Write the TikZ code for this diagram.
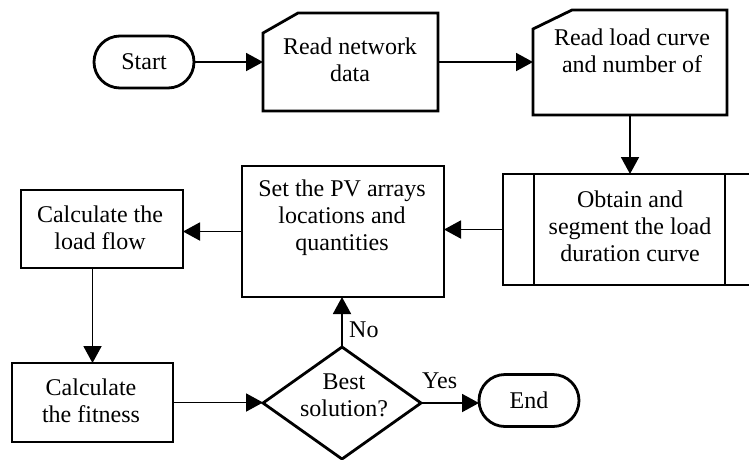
\documentclass[tikz,border=0pt]{standalone}
\usepackage{fontspec}
\setmainfont{Liberation Serif}
\usetikzlibrary{arrows.meta,shapes.geometric,shapes.misc,calc}
\begin{document}
\begin{tikzpicture}[x=1pt,y=-1pt,
  boxline/.style={line width=2.8pt, line join=miter},
  shapebox/.style={rectangle, inner sep=0pt, outer sep=0pt},
  term/.style={rounded rectangle, draw, boxline, minimum width=100pt, minimum height=52pt, inner sep=0pt, outer sep=0pt, font=\fontsize{24}{27}\selectfont},
  txt/.style={align=center, inner sep=0pt, font=\fontsize{24}{27}\selectfont},
  conn/.style={line width=1.9pt, -{Triangle[length=17pt,width=18pt]}},
  plainline/.style={line width=1.9pt}]
\useasboundingbox (0,0) rectangle (749,459);
\clip (0,0) rectangle (749,459);

% Start
\node[term] (st) at (144,62) {Start};

% Read network data (card)
\node[shapebox, minimum width=175pt, minimum height=98pt] (rn) at (350.5,62) {};
\draw[boxline] ($(rn.north west)+(0,20)$) -- ($(rn.north west)+(35,0)$) -- (rn.north east) -- (rn.south east) -- (rn.south west) -- cycle;
\node[txt] (rnt) at (350,60) {Read network\\data};

% Read load curve (card)
\node[shapebox, minimum width=194pt, minimum height=105pt] (rl) at (630,62.5) {};
\draw[boxline] ($(rl.north west)+(0,19)$) -- ($(rl.north west)+(39,0)$) -- (rl.north east) -- (rl.south east) -- (rl.south west) -- cycle;
\node[txt] (rlt) at (632,51) {Read load curve\\and number of};

% Obtain (predefined process)
\node[shapebox, draw, boxline, minimum width=253pt, minimum height=111pt] (ob) at (629.5,229.5) {};
\draw[boxline] ($(ob.north west)+(31,0)$) -- ($(ob.south west)+(31,0)$);
\draw[boxline] ($(ob.north east)+(-31,0)$) -- ($(ob.south east)+(-31,0)$);
\node[txt] (obt) at (630,226.3) {Obtain and\\segment the load\\duration curve};

% Set the PV arrays
\node[shapebox, draw, boxline, minimum width=202pt, minimum height=131pt] (set) at (343,231.5) {};
\node[txt] (sett) at (342,218) {Set the PV arrays\\locations and\\quantities};

% Calculate the load flow
\node[shapebox, draw, boxline, minimum width=162pt, minimum height=78pt] (lf) at (102,229) {};
\node[txt] (lft) at (100,228) {Calculate the\\load flow};

% Calculate the fitness
\node[shapebox, draw, boxline, minimum width=161pt, minimum height=79pt] (cf) at (92.5,402.5) {};
\node[txt] (cft) at (91,401) {Calculate\\the fitness};

% Decision
\node[diamond, draw, boxline, minimum width=158pt, minimum height=112pt, inner sep=0pt, outer sep=0pt] (bs) at (342,403) {};
\node[txt] (bst) at (344,395) {Best\\solution?};

% End
\node[term] (en) at (529,400.5) {End};

% Labels
\node[txt, anchor=base west] (no) at (349,337) {No};
\node[txt, anchor=base west] (yes) at (422,388) {Yes};

% Connectors
\draw[conn] (st.east) -- (rn.west);
\draw[conn] (rn.east) -- (rn.east -| rl.west);
\draw[conn] (rl.south) -- (rl.south |- ob.north);
\draw[conn] (ob.west) -- (ob.west -| set.east);
\draw[conn] (set.west) -- (set.west -| lf.east);
\draw[conn] (cf.north |- lf.south) -- (cf.north);
\draw[conn] (cf.east) -- (cf.east -| bs.west);
\draw[conn] (bs.north) -- (bs.north |- set.south);
\draw[conn] (bs.east) -- (bs.east -| en.west);
\end{tikzpicture}
\end{document}
